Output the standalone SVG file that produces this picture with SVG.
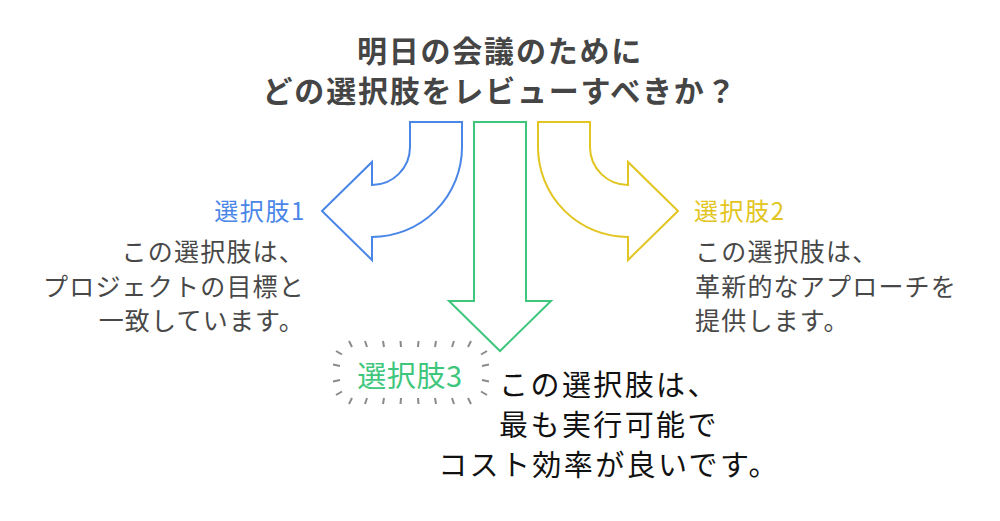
<svg xmlns="http://www.w3.org/2000/svg" width="1000" height="521" viewBox="0 0 1000 521">
<style>
text{font-family:"Noto Sans CJK JP","Noto Sans",sans-serif;}
.title{font-size:30px;font-weight:bold;fill:#454545;letter-spacing:1.8px;}
.body{font-size:25px;fill:#484848;letter-spacing:1.2px;}
.lbl{font-size:24px;letter-spacing:1.6px;}
.body3{font-size:29px;fill:#111111;letter-spacing:2.4px;}
.arrow{fill:#ffffff;stroke-width:2;stroke-linejoin:miter;}
.ray{stroke:#8a8a8a;stroke-width:2;stroke-linecap:butt;}
</style>
<rect width="1000" height="521" fill="#ffffff"/>
<g id="title">
<text class="title" x="500" y="62" text-anchor="middle">明日の会議のために</text>
<text class="title" x="500" y="102" text-anchor="middle">どの選択肢をレビューすべきか？</text>
</g>
<g id="connectors">
<path class="arrow" stroke="#4a86e8" d="M410 122 L462 122 L462 147 A90 90 0 0 1 372 237 L372 260 L322 211 L372 162 L372 185 A38 38 0 0 0 410 147 Z"/>
<path class="arrow" stroke="#3ec77c" d="M474 122 L526 122 L526 301 L551 301 L500 351 L449 301 L474 301 Z"/>
<path class="arrow" stroke="#e2c520" d="M590 122 L538 122 L538 147 A90 90 0 0 0 628 237 L628 260 L678 211 L628 162 L628 185 A38 38 0 0 1 590 147 Z"/>
</g>
<g id="option1">
<text class="lbl" x="306" y="220" text-anchor="end" fill="#4a86e8">選択肢1</text>
<text class="body" x="305" y="261" text-anchor="end">この選択肢は、</text>
<text class="body" x="305" y="296" text-anchor="end">プロジェクトの目標と</text>
<text class="body" x="305" y="330" text-anchor="end">一致しています。</text>
</g>
<g id="option2">
<text class="lbl" x="694" y="220" fill="#e2c520">選択肢2</text>
<text class="body" x="695" y="261">この選択肢は、</text>
<text class="body" x="695" y="296">革新的なアプローチを</text>
<text class="body" x="695" y="330">提供します。</text>
</g>
<g id="option3">
<g id="burst">
<line class="ray" x1="349" y1="341" x2="352" y2="347"/>
<line class="ray" x1="365" y1="341" x2="367" y2="347"/>
<line class="ray" x1="383" y1="341" x2="384" y2="347"/>
<line class="ray" x1="400.5" y1="341" x2="401" y2="347"/>
<line class="ray" x1="418.5" y1="341" x2="418" y2="347"/>
<line class="ray" x1="436" y1="341" x2="435" y2="347"/>
<line class="ray" x1="454" y1="341" x2="452" y2="347"/>
<line class="ray" x1="471" y1="341" x2="468" y2="347"/>
<line class="ray" x1="352" y1="398" x2="349" y2="404"/>
<line class="ray" x1="367" y1="398" x2="365" y2="404"/>
<line class="ray" x1="384" y1="398" x2="383" y2="404"/>
<line class="ray" x1="401" y1="398" x2="400.5" y2="404"/>
<line class="ray" x1="418" y1="398" x2="418.5" y2="404"/>
<line class="ray" x1="435" y1="398" x2="436" y2="404"/>
<line class="ray" x1="452" y1="398" x2="454" y2="404"/>
<line class="ray" x1="468" y1="398" x2="471" y2="404"/>
<line class="ray" x1="336" y1="351" x2="342" y2="354.5"/>
<line class="ray" x1="333" y1="364.5" x2="340" y2="366"/>
<line class="ray" x1="333" y1="381.5" x2="340" y2="380"/>
<line class="ray" x1="336" y1="395" x2="342" y2="391.5"/>
<line class="ray" x1="487" y1="351" x2="481" y2="354.5"/>
<line class="ray" x1="489" y1="364.5" x2="482" y2="366"/>
<line class="ray" x1="489" y1="381.5" x2="482" y2="380"/>
<line class="ray" x1="487" y1="395" x2="481" y2="391.5"/>
</g>
<text x="410" y="387" text-anchor="middle" font-size="29" letter-spacing="0.6" fill="#3ec77c">選択肢3</text>
<text class="body3" x="609" y="396" text-anchor="middle">この選択肢は、</text>
<text class="body3" x="609" y="436" text-anchor="middle">最も実行可能で</text>
<text class="body3" x="609" y="476" text-anchor="middle">コスト効率が良いです。</text>
</g>
</svg>
